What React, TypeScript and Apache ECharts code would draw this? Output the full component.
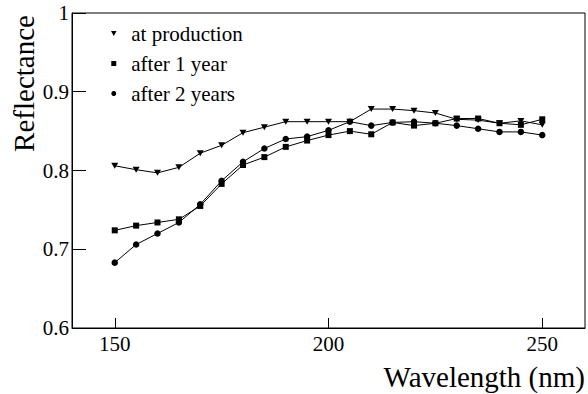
import React, { useEffect, useRef } from "react";
import * as echarts from "echarts";

const wavelengths = [150, 155, 160, 165, 170, 175, 180, 185, 190, 195, 200, 205, 210, 215, 220, 225, 230, 235, 240, 245, 250];
const atProduction = [0.806, 0.801, 0.797, 0.804, 0.822, 0.832, 0.848, 0.855, 0.862, 0.862, 0.862, 0.862, 0.878, 0.878, 0.876, 0.873, 0.865, 0.864, 0.860, 0.863, 0.858];
const afterOneYear = [0.724, 0.730, 0.734, 0.738, 0.755, 0.783, 0.807, 0.817, 0.830, 0.838, 0.845, 0.850, 0.846, 0.861, 0.857, 0.860, 0.866, 0.866, 0.860, 0.858, 0.865];
const afterTwoYears = [0.683, 0.706, 0.720, 0.734, 0.757, 0.787, 0.811, 0.828, 0.840, 0.843, 0.851, 0.862, 0.857, 0.861, 0.862, 0.860, 0.857, 0.853, 0.849, 0.849, 0.845];
const seriesNames = ["at production", "after 1 year", "after 2 years"];
const xTicks = [150, 200, 250];

const FONT = "Liberation Serif";
const TRI_DOWN = "path://M0,0L10,0L5,9Z";
const SQUARE = "path://M0,0L10,0L10,10L0,10Z";

export default function App() {
  const ref = useRef<HTMLDivElement>(null);
  useEffect(() => {
    if (!ref.current) return;
    const chart = echarts.init(ref.current, undefined, { renderer: "svg" });
    const toData = (arr: number[]) => wavelengths.map((x, i) => [x, arr[i]]);
    const common = {
      type: "line" as const,
      color: "#000",
      lineStyle: { color: "#000", width: 1 },
      itemStyle: { color: "#000" },
      showSymbol: true,
    };
    chart.setOption({
      animation: false,
      backgroundColor: "#fff",
      textStyle: { fontFamily: FONT },
      grid: {
        left: 72,
        right: 3,
        top: 13,
        bottom: 66,
        show: true,
        borderColor: "#000",
        borderWidth: 1,
      },
      legend: {
        orient: "vertical",
        left: 106,
        top: 18,
        itemWidth: 25,
        itemHeight: 5,
        itemGap: 9,
        textStyle: { fontFamily: FONT, fontSize: 21, color: "#000", lineHeight: 21 },
        data: [
          { name: seriesNames[0], icon: TRI_DOWN },
          { name: seriesNames[1], icon: SQUARE },
          { name: seriesNames[2], icon: "circle" },
        ],
      },
      xAxis: {
        type: "value",
        min: 140,
        max: 260,
        axisLine: { show: true, lineStyle: { color: "#000", width: 1 } },
        axisTick: { show: true, inside: true, length: 10, lineStyle: { color: "#000" }, customValues: xTicks },
        axisLabel: { fontFamily: FONT, fontSize: 21, color: "#000", margin: 5, customValues: xTicks },
        splitLine: { show: false },
      },
      yAxis: {
        type: "value",
        min: 0.6,
        max: 1,
        interval: 0.1,
        axisLine: { show: true, lineStyle: { color: "#000", width: 1 } },
        axisTick: { show: true, inside: true, length: 14, lineStyle: { color: "#000" } },
        axisLabel: { fontFamily: FONT, fontSize: 21, color: "#000", margin: 3 },
        splitLine: { show: false },
      },
      series: [
        { ...common, name: seriesNames[0], data: toData(atProduction), symbol: TRI_DOWN, symbolSize: [7, 6] },
        { ...common, name: seriesNames[1], data: toData(afterOneYear), symbol: SQUARE, symbolSize: 6 },
        { ...common, name: seriesNames[2], data: toData(afterTwoYears), symbol: "circle", symbolSize: 6.5 },
      ],
      graphic: [
        {
          type: "text",
          x: 23.5,
          y: 83.5,
          rotation: Math.PI / 2,
          style: { text: "Reflectance", fontFamily: FONT, fontSize: 29, fill: "#000", align: "center", verticalAlign: "middle" },
        },
        {
          type: "text",
          x: 585,
          y: 377,
          style: { text: "Wavelength (nm)", fontFamily: FONT, fontSize: 29, fill: "#000", align: "right", verticalAlign: "middle" },
        },
      ],
    });
    return () => chart.dispose();
  }, []);
  return <div ref={ref} style={{ position: "fixed", left: 0, top: 0, width: 588, height: 394 }} />;
}
